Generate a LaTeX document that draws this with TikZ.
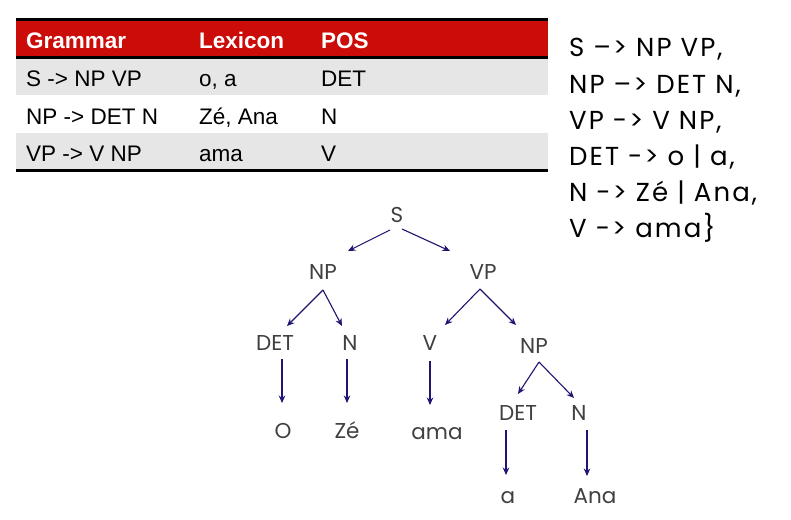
\documentclass[tikz,border=0pt]{standalone}
\usepackage{fontspec}
\setmainfont{Liberation Sans}
\newfontfamily\gothic{Poppins}
\newfontfamily\gothicw[LetterSpace=8]{Poppins}
\usetikzlibrary{arrows.meta}
\definecolor{hdr}{HTML}{CC0C08}
\definecolor{rowg}{HTML}{E6E6E6}
\definecolor{navy}{HTML}{1E1670}
\definecolor{tgray}{HTML}{404040}
\begin{document}
\begin{tikzpicture}[x=1pt,y=-1pt,
  tabtxt/.style={inner sep=0pt, anchor=base west, font=\fontsize{22.5}{27}\selectfont},
  tabhdr/.style={tabtxt, text=white, font=\fontsize{22.5}{27}\selectfont\bfseries},
  gram/.style={inner sep=0pt, anchor=base west, font=\gothicw\fontsize{26}{30}\selectfont},
  tn/.style={inner sep=0pt, anchor=base, text=tgray, font=\gothic\fontsize{21.5}{26}\selectfont},
  arr/.style={draw=navy, line width=1.1pt, -{Stealth[length=7.5pt,width=6.5pt]}}]
\fill[white] (0,0) rectangle (791,519);
\useasboundingbox (0,0) rectangle (791,519);
% table
\fill[hdr] (16,20) rectangle (548,56.5);
\fill[rowg] (16,57.5) rectangle (548,95);
\fill[rowg] (16,133) rectangle (548,169);
\draw[line width=3pt] (16,19.5) -- (548,19.5);
\draw[line width=2.5pt] (16,57.3) -- (548,57.3);
\draw[line width=3pt] (16,170) -- (548,170);
\node[tabhdr] (h1) at (26,48.7) {Grammar};
\node[tabhdr] (h2) at (199,48.7) {Lexicon};
\node[tabhdr] (h3) at (321,48.7) {POS};
\node[tabtxt] (r11) at (26,86) {S -> NP VP};
\node[tabtxt] (r12) at (199,86) {o, a};
\node[tabtxt] (r13) at (321,86) {DET};
\node[tabtxt] (r21) at (26,124) {NP -> DET N};
\node[tabtxt] (r22) at (199,124) {Zé, Ana};
\node[tabtxt] (r23) at (321,124) {N};
\node[tabtxt] (r31) at (26,161.3) {VP -> V NP};
\node[tabtxt] (r32) at (199,161.3) {ama};
\node[tabtxt] (r33) at (321,161.3) {V};
% grammar text
\node[gram] (g1) at (569,56.7) {S –> NP VP,};
\node[gram] (g2) at (569,93) {NP –> DET N,};
\node[gram] (g3) at (569,129) {VP -> V NP,};
\node[gram] (g4) at (569,165) {DET -> o\hspace{0.35em}|\hspace{0.35em}a,};
\node[gram] (g5) at (569,201) {N -> Zé\hspace{0.35em}|\hspace{0.35em}Ana,};
\node[gram] (g6) at (569,237.5) {V -> ama\}};
% tree
\node[tn] (S) at (397,222) {S};
\node[tn] (NPa) at (323,279) {NP};
\node[tn] (VPa) at (483,279) {VP};
\node[tn] (DETa) at (275,350) {DET};
\node[tn] (Na) at (350,350) {N};
\node[tn] (Va) at (430,350) {V};
\node[tn] (NPb) at (534,353) {NP};
\node[tn] (Ow) at (283,438) {O};
\node[tn] (Ze) at (347,438) {Zé};
\node[tn] (ama) at (437,439) {ama};
\node[tn] (DETb) at (518,420) {DET};
\node[tn] (Nb) at (579,420) {N};
\node[tn] (aw) at (508,503) {a};
\node[tn] (Ana) at (595,503) {Ana};
\draw[arr] ([shift={(-7,8)}]S.base) -- ([shift={(25,-28)}]NPa.base);
\draw[arr] ([shift={(5,7)}]S.base) -- ([shift={(-33,-28)}]VPa.base);
\draw[arr] ([shift={(0,11)}]NPa.base) -- ([shift={(12,-24)}]DETa.base);
\draw[arr] ([shift={(0,11)}]NPa.base) -- ([shift={(-8,-24)}]Na.base);
\draw[arr] ([shift={(-3,10)}]VPa.base) -- ([shift={(15,-25)}]Va.base);
\draw[arr] ([shift={(-3,10)}]VPa.base) -- ([shift={(-18,-28)}]NPb.base);
\draw[arr] ([shift={(7,9)}]DETa.base) -- ([shift={(-1,-35)}]Ow.base);
\draw[arr] ([shift={(-3,9)}]Na.base) -- ([shift={(0,-35)}]Ze.base);
\draw[arr] ([shift={(0,11)}]Va.base) -- ([shift={(-7,-34)}]ama.base);
\draw[arr] ([shift={(5,9)}]NPb.base) -- ([shift={(0,-26)}]DETb.base);
\draw[arr] ([shift={(5,9)}]NPb.base) -- ([shift={(-5,-22)}]Nb.base);
\draw[arr] ([shift={(-12,10)}]DETb.base) -- ([shift={(-2,-28)}]aw.base);
\draw[arr] ([shift={(8,10)}]Nb.base) -- ([shift={(-8,-27)}]Ana.base);
\end{tikzpicture}
\end{document}
